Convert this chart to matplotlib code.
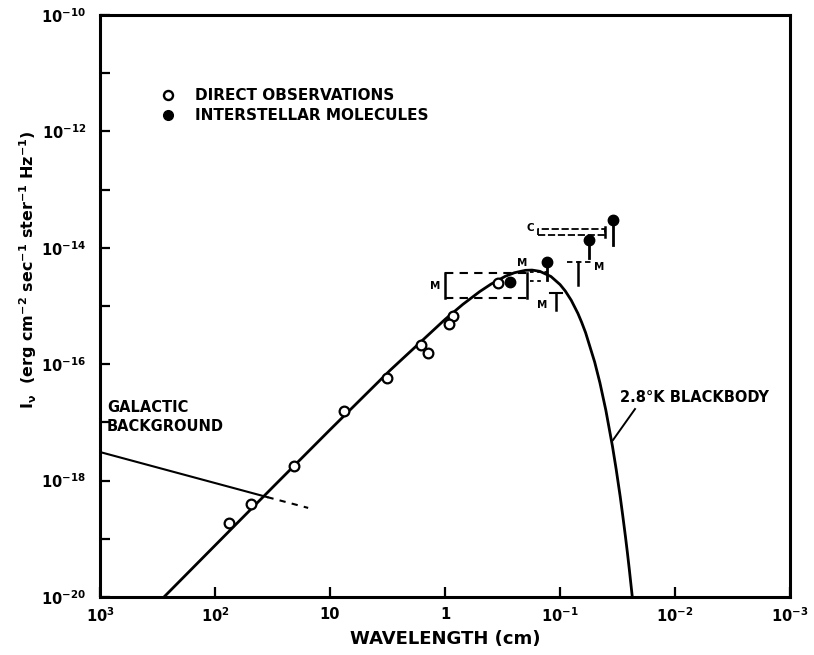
import matplotlib.pyplot as plt
import matplotlib.ticker as mticker

plt.rcParams['font.family'] = 'DejaVu Sans'
plt.rcParams['font.weight'] = 'bold'
plt.rcParams['axes.labelweight'] = 'bold'
plt.rcParams['mathtext.default'] = 'bf'

# 2.8 K blackbody curve (wavelength in cm, I_nu)
bb_lambda = [300, 100, 30, 10, 3, 1, 0.7, 0.5, 0.4, 0.3, 0.25, 0.2, 0.175, 0.15,
             0.12, 0.1, 0.09, 0.08, 0.07, 0.065, 0.06, 0.05, 0.045, 0.04, 0.035,
             0.0325, 0.03, 0.0285, 0.027, 0.026, 0.025, 0.0235]
bb_inten = [8.6e-21, 7.7e-20, 8.5e-19, 7.5e-18, 7.9e-17, 5.9e-16, 1.07e-15, 1.77e-15,
            2.37e-15, 3.24e-15, 3.73e-15, 4.11e-15, 4.15e-15, 3.95e-15, 3.22e-15,
            2.34e-15, 1.81e-15, 1.26e-15, 7.5e-16, 5.3e-16, 3.5e-16, 1.09e-16,
            4.78e-17, 1.63e-17, 3.87e-18, 1.56e-18, 5.34e-19, 2.5e-19, 1.09e-19,
            5.9e-20, 3.0e-20, 9.7e-21]

# direct observations (open circles)
obs_lambda = [75.5, 48.6, 20.6, 7.55, 3.19, 1.62, 1.41, 0.85, 0.92, 0.346]
obs_inten = [1.86e-19, 4.0e-19, 1.78e-18, 1.58e-17, 5.8e-17, 2.1e-16, 1.55e-16,
             6.7e-16, 4.9e-16, 2.5e-15]

# interstellar molecules (filled circles), last three are upper limits
mol_lambda = [0.27, 0.130, 0.056, 0.0346]
mol_inten = [2.6e-15, 5.7e-15, 1.36e-14, 3.0e-14]
mol_stem = [None, 2.8e-15, 6.7e-15, 1.13e-14]

# galactic background
gal_lambda = [1000, 35]
gal_inten = [3.1e-18, 5.2e-19]
gal_ext_lambda = [35, 15.5]
gal_ext_inten = [5.2e-19, 3.4e-19]

# M and C boxes
mbox_lambda = [1.0, 0.194]
mbox_inten = [1.37e-15, 3.7e-15]
cbox_lambda = [0.155, 0.0407]
cbox_inten = [1.66e-14, 2.1e-14]

fig = plt.figure(figsize=(8.14, 6.55), dpi=100)
ax = fig.add_axes([0.1229, 0.0885, 0.8477, 0.8885])
ax.set_xscale('log')
ax.set_yscale('log')
ax.set_xlim(1e3, 1e-3)
ax.set_ylim(1e-20, 1e-10)

k = 'black'
ax.plot(bb_lambda, bb_inten, color=k, lw=2)
ax.plot(gal_lambda, gal_inten, color=k, lw=1.5)
ax.plot(gal_ext_lambda, gal_ext_inten, color=k, lw=1.5, ls=(0, (3, 3)))

ax.plot(obs_lambda, obs_inten, 'o', ms=7, mfc='white', mec=k, mew=1.6)
ax.plot(mol_lambda, mol_inten, 'o', ms=7.5, color=k)
for lam, top, low in zip(mol_lambda, mol_inten, mol_stem):
    if low is not None:
        ax.plot([lam, lam], [low, top], color=k, lw=2)

# big M box
l0, l1 = mbox_lambda
i0, i1 = mbox_inten
ax.plot([l0, l1], [i1, i1], color=k, lw=1.5, ls=(0, (4, 3)))
ax.plot([l0, l1], [i0, i0], color=k, lw=1.5, ls=(0, (4, 3)))
ax.plot([l0, l0], [i0, i1], color=k, lw=1.8)
ax.plot([l1, l1], [i0, i1], color=k, lw=1.8)
ax.text(1.22, 2.2e-15, 'M', fontsize=7.5, ha='center', va='center')

# small dashed bracket and M label next to the peak
ax.plot([0.182, 0.127], [3.84e-15, 3.84e-15], color=k, lw=1.3, ls=(0, (2, 2)))
ax.plot([0.182, 0.143], [2.69e-15, 2.69e-15], color=k, lw=1.3, ls=(0, (2, 2)))
ax.text(0.214, 5.5e-15, 'M', fontsize=7.5, ha='center', va='center')

# upper limit markers labelled M
ax.plot([0.0869, 0.0527], [5.7e-15, 5.7e-15], color=k, lw=1.3, ls=(0, (3, 2)))
ax.plot([0.0697, 0.0697], [2.29e-15, 5.7e-15], color=k, lw=1.8)
ax.text(0.0458, 4.7e-15, 'M', fontsize=7.5, ha='center', va='center')
ax.plot([0.122, 0.096], [1.67e-15, 1.67e-15], color=k, lw=1.5)
ax.plot([0.108, 0.108], [8.5e-16, 1.67e-15], color=k, lw=1.8)
ax.text(0.144, 1.05e-15, 'M', fontsize=7.5, ha='center', va='center')

# C box
c0, c1 = cbox_lambda
j0, j1 = cbox_inten
ax.plot([c0, c1, c1, c0, c0], [j0, j0, j1, j1, j0], color=k, lw=1.3, ls=(0, (4, 1.5)))
ax.plot([c1, c1], [1.55e-14, 2.3e-14], color=k, lw=1.8)
ax.text(0.182, 2.2e-14, 'C', fontsize=7.5, ha='center', va='center')

# labels
ax.text(0.030, 2.7e-17, '2.8°K BLACKBODY', fontsize=10.5, ha='left', va='center')
ax.plot([0.0223, 0.0346], [1.7e-17, 5.0e-18], color=k, lw=1.4)
ax.text(869, 1.24e-17, 'GALACTIC\nBACKGROUND', fontsize=10.5,
        ha='left', va='center', linespacing=1.35)

# key
ax.plot([0.0986], [0.8625], 'o', ms=6.5, mfc='white', mec=k, mew=1.7,
        transform=ax.transAxes)
ax.plot([0.0986], [0.828], 'o', ms=7, color=k, transform=ax.transAxes)
ax.text(0.1377, 0.8625, 'DIRECT OBSERVATIONS', fontsize=11, va='center',
        transform=ax.transAxes)
ax.text(0.1377, 0.828, 'INTERSTELLAR MOLECULES', fontsize=11, va='center',
        transform=ax.transAxes)

# axes
x_ticks = [1e3, 1e2, 1e1, 1, 1e-1, 1e-2, 1e-3]
x_labels = ['$10^3$', '$10^2$', '10', '1', '$10^{-1}$', '$10^{-2}$', '$10^{-3}$']
y_ticks = [10.0 ** e for e in range(-20, -9)]
y_labels = ['$10^{%d}$' % e if e % 2 == 0 else '' for e in range(-20, -9)]
ax.xaxis.set_major_locator(mticker.FixedLocator(x_ticks))
ax.xaxis.set_major_formatter(mticker.FixedFormatter(x_labels))
ax.yaxis.set_major_locator(mticker.FixedLocator(y_ticks))
ax.yaxis.set_major_formatter(mticker.FixedFormatter(y_labels))
ax.xaxis.set_minor_locator(mticker.NullLocator())
ax.yaxis.set_minor_locator(mticker.NullLocator())
ax.tick_params(direction='in', length=7, width=1.6, labelsize=10.5)
ax.tick_params(axis='x', pad=7)
ax.tick_params(axis='y', pad=10)
for s in ax.spines.values():
    s.set_linewidth(2.2)

ax.set_xlabel('WAVELENGTH (cm)', fontsize=13, labelpad=3)
ax.set_ylabel(r'$I_\nu$  (erg cm$^{-2}$ sec$^{-1}$ ster$^{-1}$ Hz$^{-1}$)',
              fontsize=11.5)
ax.yaxis.set_label_coords(-0.088, 0.562)

fig.savefig('out.png', dpi=100)
